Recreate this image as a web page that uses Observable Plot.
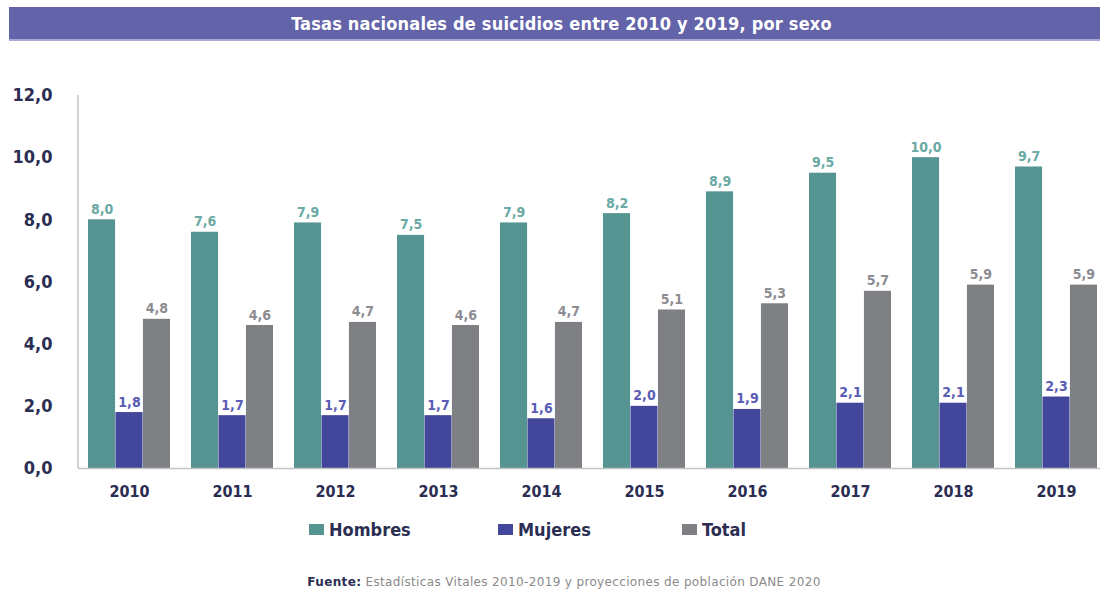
<!DOCTYPE html>
<html><head><meta charset="utf-8">
<script src="https://cdn.jsdelivr.net/npm/d3@7"></script>
<script src="https://cdn.jsdelivr.net/npm/@observablehq/plot@0.6"></script>
<style>
html,body{margin:0;padding:0;background:#fff;width:1100px;height:593px;overflow:hidden;position:relative;}
.cond{font-family:"Liberation Sans Narrow","DejaVu Sans Condensed","Roboto",sans-serif;}
#title{position:absolute;left:9px;top:7px;width:1091px;height:34px;background:#6363a9;border-bottom:2px solid #a9a9d6;color:#fff;font-weight:bold;font-size:18px;letter-spacing:0.2px;display:flex;align-items:center;justify-content:center;padding-left:14px;box-sizing:border-box;}
#chart{position:absolute;left:0;top:50px;}
#legend{position:absolute;top:519px;left:0;width:1100px;height:24px;}
.item{position:absolute;display:flex;align-items:center;font-weight:bold;font-size:18px;color:#2b2d52;}
.sw{width:15px;height:11px;margin-right:5px;}
#caption{position:absolute;top:575px;left:14px;width:1100px;text-align:center;font-size:12px;letter-spacing:0.35px;color:#8a8a8a;font-family:"DejaVu Sans","Liberation Sans",sans-serif;}
#caption b{color:#2b2d52;}
</style></head>
<body>
<div id="title" class="cond">Tasas nacionales de suicidios entre 2010 y 2019, por sexo</div>
<div id="chart"></div>
<div id="legend" class="cond"></div>
<div id="caption"><b>Fuente:</b> Estadísticas Vitales 2010-2019 y proyecciones de población DANE 2020</div>
<script>
const years = ["2010","2011","2012","2013","2014","2015","2016","2017","2018","2019"];
const hombres = [8.0,7.6,7.9,7.5,7.9,8.2,8.9,9.5,10.0,9.7];
const mujeres = [1.8,1.7,1.7,1.7,1.6,2.0,1.9,2.1,2.1,2.3];
const total = [4.8,4.6,4.7,4.6,4.7,5.1,5.3,5.7,5.9,5.9];
const series = ["Hombres","Mujeres","Total"];
const colors = ["#559490","#43479b","#7f8084"];
const labelColors = ["#6aa9a4","#5a5cb5","#8c8c92"];
const yTicks = [0,2,4,6,8,10,12];
const legendX = [309,498,682];

const values = [hombres, mujeres, total];
const rows = years.flatMap((y,i)=>series.map((s,k)=>({year:y, serie:s, k, value:values[k][i]})));
const fmt = v => d3.format(".1f")(v).replace(".", ",");

const W = 1100, H = 460, mL = 78, mR = 0, mT = 45, mB = 42;
const pI = 0.2, pO = 0.061, align = 0.79;
const step = (W - mL - mR) / (years.length - pI + 2*pO);
const bw = step * (1 - pI);

const marks = [];
series.forEach((s,k)=>{
  const d = rows.filter(r=>r.serie===s);
  marks.push(Plot.barY(d, {x:"year", y:"value", fill:colors[k], insetLeft:k*bw/3, insetRight:(2-k)*bw/3}));
  marks.push(Plot.text(d, {x:"year", y:"value", text:r=>fmt(r.value), dx:(k-1)*bw/3, dy:-6, lineAnchor:"bottom", fill:labelColors[k], fontSize:14, fontWeight:600}));
});
marks.push(Plot.ruleY([0], {stroke:"#c4c4c4", strokeWidth:1.5}));

const chart = Plot.plot({
  width: W, height: H, marginLeft: mL, marginRight: mR, marginTop: mT, marginBottom: mB,
  style: {fontFamily:'"Liberation Sans Narrow","DejaVu Sans Condensed",sans-serif', background:"transparent"},
  x: {domain: years, paddingInner: pI, paddingOuter: pO, align, label: null, tickSize: 0, tickPadding: 17},
  y: {domain: [0,12], ticks: yTicks, tickFormat: fmt, label: null, tickSize: 0, tickPadding: 26},
  marks
});
d3.select(chart).selectAll('[aria-label="x-axis tick label"] text, [aria-label="x-axis tick label"]').attr("font-size",16).attr("font-weight","bold").attr("fill","#2b2d52");
d3.select(chart).selectAll('[aria-label="y-axis tick label"]').attr("font-size",18).attr("font-weight","bold").attr("fill","#2b2d52");
const ys = chart.scale("y");
d3.select(chart).append("line").attr("x1",mL).attr("x2",mL).attr("y1",ys.apply(12)).attr("y2",ys.apply(0)).attr("stroke","#c4c4c4").attr("stroke-width",1.5);
document.getElementById("chart").appendChild(chart);

const lg = d3.select("#legend");
series.forEach((s,k)=>{
  const it = lg.append("div").attr("class","item").style("left", legendX[k]+"px");
  it.append("div").attr("class","sw").style("background", colors[k]);
  it.append("span").text(s);
});
</script>
</body></html>
